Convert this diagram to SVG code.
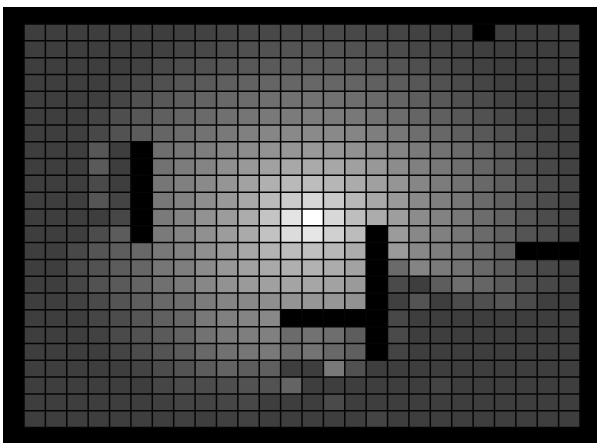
<svg xmlns="http://www.w3.org/2000/svg" width="597" height="443" viewBox="0 0 597 443">
<style>
.c rect{shape-rendering:crispEdges}
.w{fill:#000}
.grid{fill:none;stroke:#050505;stroke-width:1.5}
</style>
<rect width="597" height="443" fill="#fff"/>
<rect id="frame" x="3" y="7" width="594" height="436" fill="#000"/>
<g id="heatmap" class="c" transform="translate(24 24) scale(21.385 16.8125)">
<rect x="0" y="0" width="26" height="24" fill="#3e3e3e"/>
<g id="row0"><rect x="7" y="0" width="1" height="1" fill="#404040"/><rect x="8" y="0" width="1" height="1" fill="#424242"/><rect x="9" y="0" width="1" height="1" fill="#454545"/><rect x="10" y="0" width="1" height="1" fill="#474747"/><rect x="11" y="0" width="1" height="1" fill="#484848"/><rect x="12" y="0" width="1" height="1" fill="#4a4a4a"/><rect x="13" y="0" width="1" height="1" fill="#4a4a4a"/><rect x="14" y="0" width="1" height="1" fill="#4a4a4a"/><rect x="15" y="0" width="1" height="1" fill="#484848"/><rect x="16" y="0" width="1" height="1" fill="#474747"/><rect x="17" y="0" width="1" height="1" fill="#454545"/><rect x="18" y="0" width="1" height="1" fill="#424242"/><rect x="19" y="0" width="1" height="1" fill="#3f3f3f"/></g>
<g id="row1"><rect x="6" y="1" width="1" height="1" fill="#414141"/><rect x="7" y="1" width="1" height="1" fill="#454545"/><rect x="8" y="1" width="1" height="1" fill="#484848"/><rect x="9" y="1" width="1" height="1" fill="#4c4c4c"/><rect x="10" y="1" width="1" height="1" fill="#505050"/><rect x="11" y="1" width="1" height="1" fill="#525252"/><rect x="12" y="1" width="1" height="1" fill="#545454"/><rect x="13" y="1" width="1" height="1" fill="#545454"/><rect x="14" y="1" width="1" height="1" fill="#545454"/><rect x="15" y="1" width="1" height="1" fill="#525252"/><rect x="16" y="1" width="1" height="1" fill="#505050"/><rect x="17" y="1" width="1" height="1" fill="#4c4c4c"/><rect x="18" y="1" width="1" height="1" fill="#474747"/><rect x="19" y="1" width="1" height="1" fill="#444444"/><rect x="20" y="1" width="1" height="1" fill="#414141"/><rect x="21" y="1" width="1" height="1" fill="#3f3f3f"/></g>
<g id="row2"><rect x="5" y="2" width="1" height="1" fill="#424242"/><rect x="6" y="2" width="1" height="1" fill="#494949"/><rect x="7" y="2" width="1" height="1" fill="#4d4d4d"/><rect x="8" y="2" width="1" height="1" fill="#515151"/><rect x="9" y="2" width="1" height="1" fill="#555555"/><rect x="10" y="2" width="1" height="1" fill="#585858"/><rect x="11" y="2" width="1" height="1" fill="#5a5a5a"/><rect x="12" y="2" width="1" height="1" fill="#5c5c5c"/><rect x="13" y="2" width="1" height="1" fill="#5d5d5d"/><rect x="14" y="2" width="1" height="1" fill="#5c5c5c"/><rect x="15" y="2" width="1" height="1" fill="#5a5a5a"/><rect x="16" y="2" width="1" height="1" fill="#585858"/><rect x="17" y="2" width="1" height="1" fill="#545454"/><rect x="18" y="2" width="1" height="1" fill="#4f4f4f"/><rect x="19" y="2" width="1" height="1" fill="#4a4a4a"/><rect x="20" y="2" width="1" height="1" fill="#454545"/><rect x="21" y="2" width="1" height="1" fill="#414141"/></g>
<g id="row3"><rect x="4" y="3" width="1" height="1" fill="#424242"/><rect x="5" y="3" width="1" height="1" fill="#484848"/><rect x="6" y="3" width="1" height="1" fill="#505050"/><rect x="7" y="3" width="1" height="1" fill="#565656"/><rect x="8" y="3" width="1" height="1" fill="#5a5a5a"/><rect x="9" y="3" width="1" height="1" fill="#5f5f5f"/><rect x="10" y="3" width="1" height="1" fill="#626262"/><rect x="11" y="3" width="1" height="1" fill="#656565"/><rect x="12" y="3" width="1" height="1" fill="#666666"/><rect x="13" y="3" width="1" height="1" fill="#676767"/><rect x="14" y="3" width="1" height="1" fill="#666666"/><rect x="15" y="3" width="1" height="1" fill="#646464"/><rect x="16" y="3" width="1" height="1" fill="#606060"/><rect x="17" y="3" width="1" height="1" fill="#5c5c5c"/><rect x="18" y="3" width="1" height="1" fill="#575757"/><rect x="19" y="3" width="1" height="1" fill="#515151"/><rect x="20" y="3" width="1" height="1" fill="#4b4b4b"/><rect x="21" y="3" width="1" height="1" fill="#454545"/><rect x="22" y="3" width="1" height="1" fill="#404040"/></g>
<g id="row4"><rect x="3" y="4" width="1" height="1" fill="#3f3f3f"/><rect x="4" y="4" width="1" height="1" fill="#464646"/><rect x="5" y="4" width="1" height="1" fill="#515151"/><rect x="6" y="4" width="1" height="1" fill="#585858"/><rect x="7" y="4" width="1" height="1" fill="#5e5e5e"/><rect x="8" y="4" width="1" height="1" fill="#636363"/><rect x="9" y="4" width="1" height="1" fill="#686868"/><rect x="10" y="4" width="1" height="1" fill="#6c6c6c"/><rect x="11" y="4" width="1" height="1" fill="#6f6f6f"/><rect x="12" y="4" width="1" height="1" fill="#717171"/><rect x="13" y="4" width="1" height="1" fill="#727272"/><rect x="14" y="4" width="1" height="1" fill="#717171"/><rect x="15" y="4" width="1" height="1" fill="#6e6e6e"/><rect x="16" y="4" width="1" height="1" fill="#6a6a6a"/><rect x="17" y="4" width="1" height="1" fill="#656565"/><rect x="18" y="4" width="1" height="1" fill="#5e5e5e"/><rect x="19" y="4" width="1" height="1" fill="#585858"/><rect x="20" y="4" width="1" height="1" fill="#515151"/><rect x="21" y="4" width="1" height="1" fill="#4b4b4b"/><rect x="22" y="4" width="1" height="1" fill="#444444"/><rect x="23" y="4" width="1" height="1" fill="#3f3f3f"/></g>
<g id="row5"><rect x="3" y="5" width="1" height="1" fill="#454545"/><rect x="4" y="5" width="1" height="1" fill="#4e4e4e"/><rect x="5" y="5" width="1" height="1" fill="#575757"/><rect x="6" y="5" width="1" height="1" fill="#5f5f5f"/><rect x="7" y="5" width="1" height="1" fill="#656565"/><rect x="8" y="5" width="1" height="1" fill="#6a6a6a"/><rect x="9" y="5" width="1" height="1" fill="#707070"/><rect x="10" y="5" width="1" height="1" fill="#757575"/><rect x="11" y="5" width="1" height="1" fill="#797979"/><rect x="12" y="5" width="1" height="1" fill="#7b7b7b"/><rect x="13" y="5" width="1" height="1" fill="#7d7d7d"/><rect x="14" y="5" width="1" height="1" fill="#7b7b7b"/><rect x="15" y="5" width="1" height="1" fill="#787878"/><rect x="16" y="5" width="1" height="1" fill="#727272"/><rect x="17" y="5" width="1" height="1" fill="#6c6c6c"/><rect x="18" y="5" width="1" height="1" fill="#656565"/><rect x="19" y="5" width="1" height="1" fill="#5f5f5f"/><rect x="20" y="5" width="1" height="1" fill="#585858"/><rect x="21" y="5" width="1" height="1" fill="#515151"/><rect x="22" y="5" width="1" height="1" fill="#494949"/><rect x="23" y="5" width="1" height="1" fill="#434343"/></g>
<g id="row6"><rect x="2" y="6" width="1" height="1" fill="#3f3f3f"/><rect x="3" y="6" width="1" height="1" fill="#484848"/><rect x="4" y="6" width="1" height="1" fill="#525252"/><rect x="5" y="6" width="1" height="1" fill="#5c5c5c"/><rect x="6" y="6" width="1" height="1" fill="#656565"/><rect x="7" y="6" width="1" height="1" fill="#6c6c6c"/><rect x="8" y="6" width="1" height="1" fill="#727272"/><rect x="9" y="6" width="1" height="1" fill="#797979"/><rect x="10" y="6" width="1" height="1" fill="#808080"/><rect x="11" y="6" width="1" height="1" fill="#868686"/><rect x="12" y="6" width="1" height="1" fill="#898989"/><rect x="13" y="6" width="1" height="1" fill="#8a8a8a"/><rect x="14" y="6" width="1" height="1" fill="#898989"/><rect x="15" y="6" width="1" height="1" fill="#858585"/><rect x="16" y="6" width="1" height="1" fill="#7e7e7e"/><rect x="17" y="6" width="1" height="1" fill="#777777"/><rect x="18" y="6" width="1" height="1" fill="#6e6e6e"/><rect x="19" y="6" width="1" height="1" fill="#676767"/><rect x="20" y="6" width="1" height="1" fill="#5f5f5f"/><rect x="21" y="6" width="1" height="1" fill="#585858"/><rect x="22" y="6" width="1" height="1" fill="#505050"/><rect x="23" y="6" width="1" height="1" fill="#484848"/><rect x="24" y="6" width="1" height="1" fill="#424242"/></g>
<g id="row7"><rect x="3" y="7" width="1" height="1" fill="#575757"/><rect x="6" y="7" width="1" height="1" fill="#6e6e6e"/><rect x="7" y="7" width="1" height="1" fill="#767676"/><rect x="8" y="7" width="1" height="1" fill="#7d7d7d"/><rect x="9" y="7" width="1" height="1" fill="#858585"/><rect x="10" y="7" width="1" height="1" fill="#8c8c8c"/><rect x="11" y="7" width="1" height="1" fill="#929292"/><rect x="12" y="7" width="1" height="1" fill="#969696"/><rect x="13" y="7" width="1" height="1" fill="#999999"/><rect x="14" y="7" width="1" height="1" fill="#969696"/><rect x="15" y="7" width="1" height="1" fill="#919191"/><rect x="16" y="7" width="1" height="1" fill="#8b8b8b"/><rect x="17" y="7" width="1" height="1" fill="#848484"/><rect x="18" y="7" width="1" height="1" fill="#7a7a7a"/><rect x="19" y="7" width="1" height="1" fill="#727272"/><rect x="20" y="7" width="1" height="1" fill="#6a6a6a"/><rect x="21" y="7" width="1" height="1" fill="#626262"/><rect x="22" y="7" width="1" height="1" fill="#585858"/><rect x="23" y="7" width="1" height="1" fill="#4e4e4e"/><rect x="24" y="7" width="1" height="1" fill="#464646"/><rect x="25" y="7" width="1" height="1" fill="#404040"/></g>
<g id="row8"><rect x="3" y="8" width="1" height="1" fill="#5a5a5a"/><rect x="6" y="8" width="1" height="1" fill="#727272"/><rect x="7" y="8" width="1" height="1" fill="#7c7c7c"/><rect x="8" y="8" width="1" height="1" fill="#848484"/><rect x="9" y="8" width="1" height="1" fill="#8f8f8f"/><rect x="10" y="8" width="1" height="1" fill="#999999"/><rect x="11" y="8" width="1" height="1" fill="#a1a1a1"/><rect x="12" y="8" width="1" height="1" fill="#a8a8a8"/><rect x="13" y="8" width="1" height="1" fill="#aaaaaa"/><rect x="14" y="8" width="1" height="1" fill="#a7a7a7"/><rect x="15" y="8" width="1" height="1" fill="#a0a0a0"/><rect x="16" y="8" width="1" height="1" fill="#989898"/><rect x="17" y="8" width="1" height="1" fill="#8c8c8c"/><rect x="18" y="8" width="1" height="1" fill="#808080"/><rect x="19" y="8" width="1" height="1" fill="#787878"/><rect x="20" y="8" width="1" height="1" fill="#6e6e6e"/><rect x="21" y="8" width="1" height="1" fill="#656565"/><rect x="22" y="8" width="1" height="1" fill="#5a5a5a"/><rect x="23" y="8" width="1" height="1" fill="#505050"/><rect x="24" y="8" width="1" height="1" fill="#484848"/><rect x="25" y="8" width="1" height="1" fill="#424242"/></g>
<g id="row9"><rect x="3" y="9" width="1" height="1" fill="#4a4a4a"/><rect x="6" y="9" width="1" height="1" fill="#767676"/><rect x="7" y="9" width="1" height="1" fill="#808080"/><rect x="8" y="9" width="1" height="1" fill="#8a8a8a"/><rect x="9" y="9" width="1" height="1" fill="#959595"/><rect x="10" y="9" width="1" height="1" fill="#a2a2a2"/><rect x="11" y="9" width="1" height="1" fill="#b0b0b0"/><rect x="12" y="9" width="1" height="1" fill="#b9b9b9"/><rect x="13" y="9" width="1" height="1" fill="#bdbdbd"/><rect x="14" y="9" width="1" height="1" fill="#b6b6b6"/><rect x="15" y="9" width="1" height="1" fill="#ababab"/><rect x="16" y="9" width="1" height="1" fill="#a0a0a0"/><rect x="17" y="9" width="1" height="1" fill="#959595"/><rect x="18" y="9" width="1" height="1" fill="#868686"/><rect x="19" y="9" width="1" height="1" fill="#7c7c7c"/><rect x="20" y="9" width="1" height="1" fill="#727272"/><rect x="21" y="9" width="1" height="1" fill="#686868"/><rect x="22" y="9" width="1" height="1" fill="#5e5e5e"/><rect x="23" y="9" width="1" height="1" fill="#545454"/><rect x="24" y="9" width="1" height="1" fill="#4a4a4a"/><rect x="25" y="9" width="1" height="1" fill="#444444"/></g>
<g id="row10"><rect x="3" y="10" width="1" height="1" fill="#555555"/><rect x="4" y="10" width="1" height="1" fill="#444444"/><rect x="6" y="10" width="1" height="1" fill="#787878"/><rect x="7" y="10" width="1" height="1" fill="#828282"/><rect x="8" y="10" width="1" height="1" fill="#8e8e8e"/><rect x="9" y="10" width="1" height="1" fill="#999999"/><rect x="10" y="10" width="1" height="1" fill="#a8a8a8"/><rect x="11" y="10" width="1" height="1" fill="#bababa"/><rect x="12" y="10" width="1" height="1" fill="#cccccc"/><rect x="13" y="10" width="1" height="1" fill="#d8d8d8"/><rect x="14" y="10" width="1" height="1" fill="#cacaca"/><rect x="15" y="10" width="1" height="1" fill="#b8b8b8"/><rect x="16" y="10" width="1" height="1" fill="#a8a8a8"/><rect x="17" y="10" width="1" height="1" fill="#9a9a9a"/><rect x="18" y="10" width="1" height="1" fill="#8a8a8a"/><rect x="19" y="10" width="1" height="1" fill="#7f7f7f"/><rect x="20" y="10" width="1" height="1" fill="#767676"/><rect x="21" y="10" width="1" height="1" fill="#6a6a6a"/><rect x="22" y="10" width="1" height="1" fill="#606060"/><rect x="23" y="10" width="1" height="1" fill="#565656"/><rect x="24" y="10" width="1" height="1" fill="#4c4c4c"/><rect x="25" y="10" width="1" height="1" fill="#444444"/></g>
<g id="row11"><rect x="4" y="11" width="1" height="1" fill="#474747"/><rect x="6" y="11" width="1" height="1" fill="#7a7a7a"/><rect x="7" y="11" width="1" height="1" fill="#848484"/><rect x="8" y="11" width="1" height="1" fill="#929292"/><rect x="9" y="11" width="1" height="1" fill="#9c9c9c"/><rect x="10" y="11" width="1" height="1" fill="#acacac"/><rect x="11" y="11" width="1" height="1" fill="#c4c4c4"/><rect x="12" y="11" width="1" height="1" fill="#e4e4e4"/><rect id="light" x="13" y="11" width="1" height="1" fill="#ffffff"/><rect x="14" y="11" width="1" height="1" fill="#d8d8d8"/><rect x="15" y="11" width="1" height="1" fill="#bebebe"/><rect x="16" y="11" width="1" height="1" fill="#acacac"/><rect x="17" y="11" width="1" height="1" fill="#9e9e9e"/><rect x="18" y="11" width="1" height="1" fill="#8c8c8c"/><rect x="19" y="11" width="1" height="1" fill="#828282"/><rect x="20" y="11" width="1" height="1" fill="#787878"/><rect x="21" y="11" width="1" height="1" fill="#6c6c6c"/><rect x="22" y="11" width="1" height="1" fill="#626262"/><rect x="23" y="11" width="1" height="1" fill="#565656"/><rect x="24" y="11" width="1" height="1" fill="#4c4c4c"/><rect x="25" y="11" width="1" height="1" fill="#444444"/></g>
<g id="row12"><rect x="3" y="12" width="1" height="1" fill="#4c4c4c"/><rect x="4" y="12" width="1" height="1" fill="#5c5c5c"/><rect x="6" y="12" width="1" height="1" fill="#7a7a7a"/><rect x="7" y="12" width="1" height="1" fill="#848484"/><rect x="8" y="12" width="1" height="1" fill="#909090"/><rect x="9" y="12" width="1" height="1" fill="#9c9c9c"/><rect x="10" y="12" width="1" height="1" fill="#aaaaaa"/><rect x="11" y="12" width="1" height="1" fill="#c2c2c2"/><rect x="12" y="12" width="1" height="1" fill="#dcdcdc"/><rect x="13" y="12" width="1" height="1" fill="#e6e6e6"/><rect x="14" y="12" width="1" height="1" fill="#d0d0d0"/><rect x="15" y="12" width="1" height="1" fill="#bcbcbc"/><rect x="17" y="12" width="1" height="1" fill="#9b9b9b"/><rect x="18" y="12" width="1" height="1" fill="#888888"/><rect x="19" y="12" width="1" height="1" fill="#808080"/><rect x="20" y="12" width="1" height="1" fill="#767676"/><rect x="21" y="12" width="1" height="1" fill="#6a6a6a"/><rect x="22" y="12" width="1" height="1" fill="#606060"/><rect x="23" y="12" width="1" height="1" fill="#545454"/><rect x="24" y="12" width="1" height="1" fill="#4c4c4c"/><rect x="25" y="12" width="1" height="1" fill="#424242"/></g>
<g id="row13"><rect x="2" y="13" width="1" height="1" fill="#484848"/><rect x="3" y="13" width="1" height="1" fill="#555555"/><rect x="4" y="13" width="1" height="1" fill="#5d5d5d"/><rect x="5" y="13" width="1" height="1" fill="#686868"/><rect x="6" y="13" width="1" height="1" fill="#787878"/><rect x="7" y="13" width="1" height="1" fill="#828282"/><rect x="8" y="13" width="1" height="1" fill="#8f8f8f"/><rect x="9" y="13" width="1" height="1" fill="#9b9b9b"/><rect x="10" y="13" width="1" height="1" fill="#a7a7a7"/><rect x="11" y="13" width="1" height="1" fill="#b3b3b3"/><rect x="12" y="13" width="1" height="1" fill="#bcbcbc"/><rect x="13" y="13" width="1" height="1" fill="#c0c0c0"/><rect x="14" y="13" width="1" height="1" fill="#b8b8b8"/><rect x="15" y="13" width="1" height="1" fill="#acacac"/><rect x="17" y="13" width="1" height="1" fill="#9a9a9a"/><rect x="18" y="13" width="1" height="1" fill="#888888"/><rect x="19" y="13" width="1" height="1" fill="#7e7e7e"/><rect x="20" y="13" width="1" height="1" fill="#747474"/><rect x="21" y="13" width="1" height="1" fill="#6a6a6a"/><rect x="22" y="13" width="1" height="1" fill="#5e5e5e"/></g>
<g id="row14"><rect x="2" y="14" width="1" height="1" fill="#4a4a4a"/><rect x="3" y="14" width="1" height="1" fill="#525252"/><rect x="4" y="14" width="1" height="1" fill="#5c5c5c"/><rect x="5" y="14" width="1" height="1" fill="#666666"/><rect x="6" y="14" width="1" height="1" fill="#767676"/><rect x="7" y="14" width="1" height="1" fill="#7e7e7e"/><rect x="8" y="14" width="1" height="1" fill="#8b8b8b"/><rect x="9" y="14" width="1" height="1" fill="#979797"/><rect x="10" y="14" width="1" height="1" fill="#a1a1a1"/><rect x="11" y="14" width="1" height="1" fill="#a9a9a9"/><rect x="12" y="14" width="1" height="1" fill="#afafaf"/><rect x="13" y="14" width="1" height="1" fill="#b2b2b2"/><rect x="14" y="14" width="1" height="1" fill="#acacac"/><rect x="15" y="14" width="1" height="1" fill="#a2a2a2"/><rect x="17" y="14" width="1" height="1" fill="#6a6a6a"/><rect x="18" y="14" width="1" height="1" fill="#848484"/><rect x="19" y="14" width="1" height="1" fill="#7a7a7a"/><rect x="20" y="14" width="1" height="1" fill="#727272"/><rect x="21" y="14" width="1" height="1" fill="#686868"/><rect x="22" y="14" width="1" height="1" fill="#5c5c5c"/><rect x="23" y="14" width="1" height="1" fill="#505050"/><rect x="24" y="14" width="1" height="1" fill="#484848"/><rect x="25" y="14" width="1" height="1" fill="#424242"/></g>
<g id="row15"><rect x="2" y="15" width="1" height="1" fill="#464646"/><rect x="3" y="15" width="1" height="1" fill="#525252"/><rect x="4" y="15" width="1" height="1" fill="#5a5a5a"/><rect x="5" y="15" width="1" height="1" fill="#646464"/><rect x="6" y="15" width="1" height="1" fill="#707070"/><rect x="7" y="15" width="1" height="1" fill="#7a7a7a"/><rect x="8" y="15" width="1" height="1" fill="#878787"/><rect x="9" y="15" width="1" height="1" fill="#929292"/><rect x="10" y="15" width="1" height="1" fill="#9a9a9a"/><rect x="11" y="15" width="1" height="1" fill="#a0a0a0"/><rect x="12" y="15" width="1" height="1" fill="#a4a4a4"/><rect x="13" y="15" width="1" height="1" fill="#a6a6a6"/><rect x="14" y="15" width="1" height="1" fill="#a2a2a2"/><rect x="15" y="15" width="1" height="1" fill="#9a9a9a"/><rect x="17" y="15" width="1" height="1" fill="#4a4a4a"/><rect x="19" y="15" width="1" height="1" fill="#5d5d5d"/><rect x="20" y="15" width="1" height="1" fill="#6e6e6e"/><rect x="21" y="15" width="1" height="1" fill="#656565"/><rect x="22" y="15" width="1" height="1" fill="#5a5a5a"/><rect x="23" y="15" width="1" height="1" fill="#505050"/><rect x="24" y="15" width="1" height="1" fill="#484848"/><rect x="25" y="15" width="1" height="1" fill="#424242"/></g>
<g id="row16"><rect x="2" y="16" width="1" height="1" fill="#424242"/><rect x="3" y="16" width="1" height="1" fill="#4a4a4a"/><rect x="4" y="16" width="1" height="1" fill="#545454"/><rect x="5" y="16" width="1" height="1" fill="#5e5e5e"/><rect x="6" y="16" width="1" height="1" fill="#686868"/><rect x="7" y="16" width="1" height="1" fill="#6e6e6e"/><rect x="8" y="16" width="1" height="1" fill="#7b7b7b"/><rect x="9" y="16" width="1" height="1" fill="#848484"/><rect x="10" y="16" width="1" height="1" fill="#888888"/><rect x="11" y="16" width="1" height="1" fill="#8e8e8e"/><rect x="12" y="16" width="1" height="1" fill="#949494"/><rect x="13" y="16" width="1" height="1" fill="#969696"/><rect x="14" y="16" width="1" height="1" fill="#969696"/><rect x="15" y="16" width="1" height="1" fill="#929292"/><rect x="17" y="16" width="1" height="1" fill="#404040"/><rect x="18" y="16" width="1" height="1" fill="#545454"/><rect x="20" y="16" width="1" height="1" fill="#4c4c4c"/><rect x="21" y="16" width="1" height="1" fill="#4f4f4f"/><rect x="22" y="16" width="1" height="1" fill="#565656"/><rect x="23" y="16" width="1" height="1" fill="#4b4b4b"/><rect x="24" y="16" width="1" height="1" fill="#3f3f3f"/></g>
<g id="row17"><rect x="3" y="17" width="1" height="1" fill="#464646"/><rect x="4" y="17" width="1" height="1" fill="#4c4c4c"/><rect x="5" y="17" width="1" height="1" fill="#565656"/><rect x="6" y="17" width="1" height="1" fill="#606060"/><rect x="7" y="17" width="1" height="1" fill="#676767"/><rect x="8" y="17" width="1" height="1" fill="#787878"/><rect x="9" y="17" width="1" height="1" fill="#808080"/><rect x="10" y="17" width="1" height="1" fill="#848484"/><rect x="11" y="17" width="1" height="1" fill="#888888"/><rect x="17" y="17" width="1" height="1" fill="#484848"/></g>
<g id="row18"><rect x="3" y="18" width="1" height="1" fill="#424242"/><rect x="4" y="18" width="1" height="1" fill="#4a4a4a"/><rect x="5" y="18" width="1" height="1" fill="#525252"/><rect x="6" y="18" width="1" height="1" fill="#5a5a5a"/><rect x="7" y="18" width="1" height="1" fill="#636363"/><rect x="8" y="18" width="1" height="1" fill="#727272"/><rect x="9" y="18" width="1" height="1" fill="#7a7a7a"/><rect x="10" y="18" width="1" height="1" fill="#7e7e7e"/><rect x="11" y="18" width="1" height="1" fill="#808080"/><rect x="12" y="18" width="1" height="1" fill="#6b6b6b"/><rect x="13" y="18" width="1" height="1" fill="#727272"/><rect x="14" y="18" width="1" height="1" fill="#6e6e6e"/><rect x="15" y="18" width="1" height="1" fill="#5d5d5d"/><rect x="17" y="18" width="1" height="1" fill="#4a4a4a"/></g>
<g id="row19"><rect x="4" y="19" width="1" height="1" fill="#444444"/><rect x="5" y="19" width="1" height="1" fill="#4c4c4c"/><rect x="6" y="19" width="1" height="1" fill="#545454"/><rect x="7" y="19" width="1" height="1" fill="#5c5c5c"/><rect x="8" y="19" width="1" height="1" fill="#686868"/><rect x="9" y="19" width="1" height="1" fill="#717171"/><rect x="10" y="19" width="1" height="1" fill="#767676"/><rect x="11" y="19" width="1" height="1" fill="#797979"/><rect x="12" y="19" width="1" height="1" fill="#6c6c6c"/><rect x="13" y="19" width="1" height="1" fill="#747474"/><rect x="14" y="19" width="1" height="1" fill="#686868"/><rect x="15" y="19" width="1" height="1" fill="#5f5f5f"/><rect x="17" y="19" width="1" height="1" fill="#444444"/></g>
<g id="row20"><rect x="5" y="20" width="1" height="1" fill="#444444"/><rect x="6" y="20" width="1" height="1" fill="#4c4c4c"/><rect x="7" y="20" width="1" height="1" fill="#535353"/><rect x="8" y="20" width="1" height="1" fill="#5c5c5c"/><rect x="9" y="20" width="1" height="1" fill="#636363"/><rect x="10" y="20" width="1" height="1" fill="#5d5d5d"/><rect x="11" y="20" width="1" height="1" fill="#5f5f5f"/><rect x="14" y="20" width="1" height="1" fill="#797979"/><rect x="15" y="20" width="1" height="1" fill="#515151"/></g>
<g id="row21"><rect x="6" y="21" width="1" height="1" fill="#464646"/><rect x="7" y="21" width="1" height="1" fill="#4b4b4b"/><rect x="8" y="21" width="1" height="1" fill="#4c4c4c"/><rect x="9" y="21" width="1" height="1" fill="#4e4e4e"/><rect x="10" y="21" width="1" height="1" fill="#525252"/><rect x="11" y="21" width="1" height="1" fill="#525252"/><rect x="12" y="21" width="1" height="1" fill="#646464"/><rect x="19" y="21" width="1" height="1" fill="#444444"/></g>
<g id="row22"><rect x="6" y="22" width="1" height="1" fill="#404040"/><rect x="7" y="22" width="1" height="1" fill="#444444"/><rect x="8" y="22" width="1" height="1" fill="#444444"/><rect x="9" y="22" width="1" height="1" fill="#464646"/><rect x="10" y="22" width="1" height="1" fill="#484848"/><rect x="14" y="22" width="1" height="1" fill="#4a4a4a"/></g>
<g id="row23"><rect x="7" y="23" width="1" height="1" fill="#404040"/><rect x="9" y="23" width="1" height="1" fill="#404040"/><rect x="10" y="23" width="1" height="1" fill="#424242"/><rect x="16" y="23" width="1" height="1" fill="#444444"/></g>
<g id="walls" class="w">
<rect x="21" y="0" width="1" height="1"/>
<rect x="5" y="7" width="1" height="6"/>
<rect x="16" y="12" width="1" height="8"/>
<rect x="12" y="17" width="4" height="1"/>
<rect x="23" y="13" width="3" height="1"/>
</g>
<path id="gridlines" class="grid" vector-effect="non-scaling-stroke" d="M0 0V24M1 0V24M2 0V24M3 0V24M4 0V24M5 0V24M6 0V24M7 0V24M8 0V24M9 0V24M10 0V24M11 0V24M12 0V24M13 0V24M14 0V24M15 0V24M16 0V24M17 0V24M18 0V24M19 0V24M20 0V24M21 0V24M22 0V24M23 0V24M24 0V24M25 0V24M26 0V24M0 0H26M0 1H26M0 2H26M0 3H26M0 4H26M0 5H26M0 6H26M0 7H26M0 8H26M0 9H26M0 10H26M0 11H26M0 12H26M0 13H26M0 14H26M0 15H26M0 16H26M0 17H26M0 18H26M0 19H26M0 20H26M0 21H26M0 22H26M0 23H26M0 24H26"/>
</g>
</svg>
